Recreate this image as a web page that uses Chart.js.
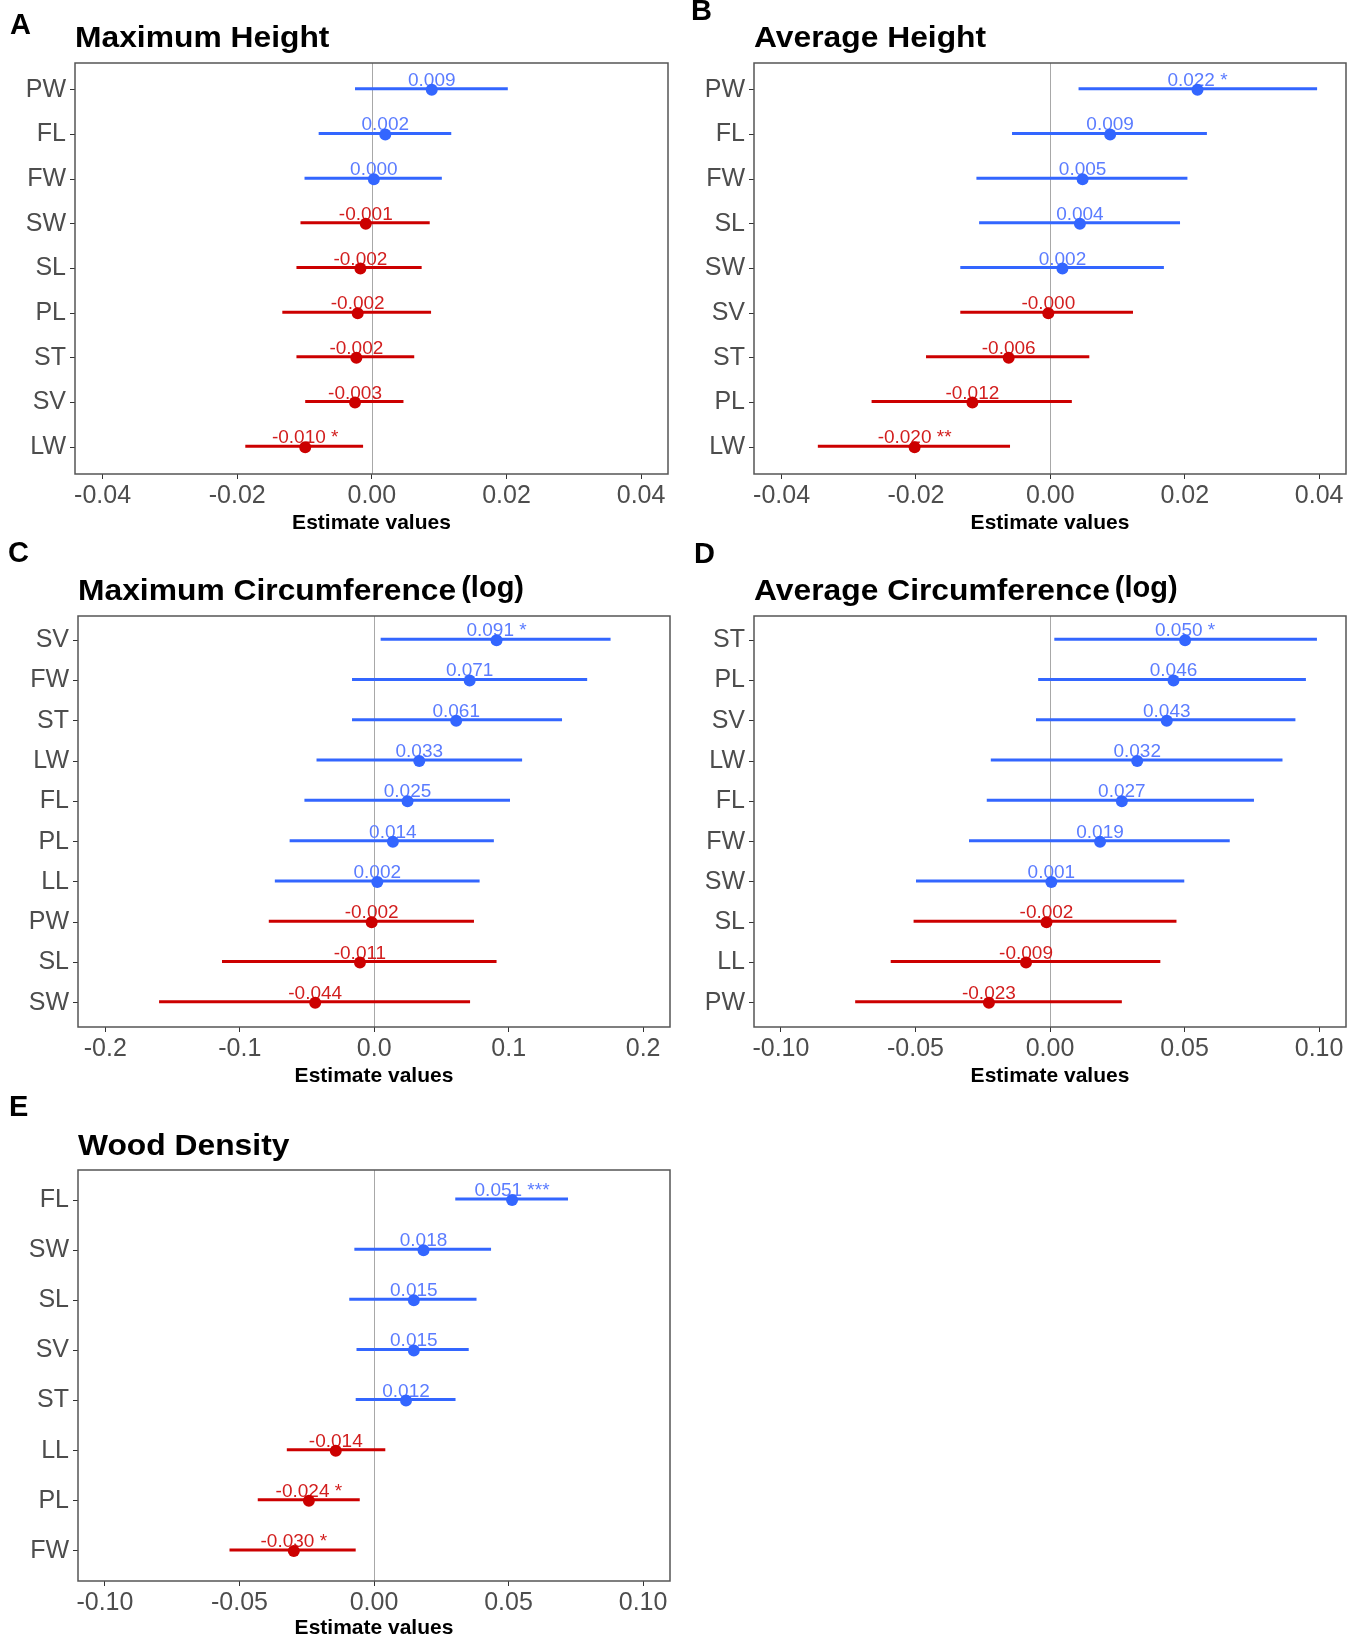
<!DOCTYPE html>
<html>
<head>
<meta charset="utf-8">
<title>Estimate values by trait</title>
<script src="https://cdn.jsdelivr.net/npm/chart.js@4.4.0/dist/chart.umd.min.js"></script>
<style>
  body { margin: 0; background: #fff; width: 1363px; height: 1641px; position: relative; overflow: hidden; }
  canvas { position: absolute; }
</style>
</head>
<body>
<canvas id="chartA" width="680" height="540" style="left:0;top:0"></canvas>
<canvas id="chartB" width="683" height="540" style="left:680px;top:0"></canvas>
<canvas id="chartC" width="680" height="560" style="left:0;top:540px"></canvas>
<canvas id="chartD" width="683" height="560" style="left:680px;top:540px"></canvas>
<canvas id="chartE" width="680" height="561" style="left:0;top:1080px"></canvas>
<script>
// A - Maximum Height
const catsA = ['PW', 'FL', 'FW', 'SW', 'SL', 'PL', 'ST', 'SV', 'LW'];
const estA = [0.0089, 0.0020, 0.0003, -0.0009, -0.0017, -0.0021, -0.0023, -0.0025, -0.0099];
const lowA = [-0.0025, -0.0079, -0.0100, -0.0106, -0.0112, -0.0133, -0.0112, -0.0099, -0.0188];
const highA = [0.0202, 0.0118, 0.0104, 0.0086, 0.0074, 0.0088, 0.0063, 0.0047, -0.0013];
const textA = ['0.009', '0.002', '0.000', '-0.001', '-0.002', '-0.002', '-0.002', '-0.003', '-0.010 *'];

// B - Average Height
const catsB = ['PW', 'FL', 'FW', 'SL', 'SW', 'SV', 'ST', 'PL', 'LW'];
const estB = [0.0219, 0.0089, 0.0048, 0.0044, 0.0018, -0.0003, -0.0062, -0.0116, -0.0202];
const lowB = [0.0042, -0.0057, -0.0110, -0.0106, -0.0134, -0.0134, -0.0185, -0.0266, -0.0346];
const highB = [0.0397, 0.0233, 0.0204, 0.0193, 0.0169, 0.0123, 0.0058, 0.0032, -0.0060];
const textB = ['0.022 *', '0.009', '0.005', '0.004', '0.002', '-0.000', '-0.006', '-0.012', '-0.020 **'];

// C - Maximum Circumference (log)
const catsC = ['SV', 'FW', 'ST', 'LW', 'FL', 'PL', 'LL', 'PW', 'SL', 'SW'];
const estC = [0.091, 0.071, 0.061, 0.0335, 0.0248, 0.0139, 0.0023, -0.0019, -0.0106, -0.0439];
const lowC = [0.0048, -0.0165, -0.0165, -0.0429, -0.0519, -0.0629, -0.0739, -0.0784, -0.1132, -0.160];
const highC = [0.1758, 0.1584, 0.1397, 0.110, 0.101, 0.089, 0.0784, 0.0742, 0.091, 0.0713];
const textC = ['0.091 *', '0.071', '0.061', '0.033', '0.025', '0.014', '0.002', '-0.002', '-0.011', '-0.044'];

// D - Average Circumference (log)
const catsD = ['ST', 'PL', 'SV', 'LW', 'FL', 'FW', 'SW', 'SL', 'LL', 'PW'];
const estD = [0.0502, 0.0459, 0.0434, 0.0324, 0.0267, 0.0186, 0.0005, -0.0013, -0.0089, -0.0227];
const lowD = [0.0016, -0.0044, -0.0052, -0.0220, -0.0235, -0.0301, -0.0498, -0.0507, -0.0592, -0.0724];
const highD = [0.0992, 0.0951, 0.0912, 0.0864, 0.0758, 0.0668, 0.0499, 0.0470, 0.0410, 0.0267];
const textD = ['0.050 *', '0.046', '0.043', '0.032', '0.027', '0.019', '0.001', '-0.002', '-0.009', '-0.023'];

// E - Wood Density
const catsE = ['FL', 'SW', 'SL', 'SV', 'ST', 'LL', 'PL', 'FW'];
const estE = [0.0513, 0.0184, 0.0148, 0.0148, 0.0119, -0.0142, -0.0242, -0.0298];
const lowE = [0.0302, -0.0073, -0.0092, -0.0065, -0.0068, -0.0324, -0.0432, -0.0537];
const highE = [0.0721, 0.0435, 0.0381, 0.0352, 0.0303, 0.0042, -0.0053, -0.0068];
const textE = ['0.051 ***', '0.018', '0.015', '0.015', '0.012', '-0.014', '-0.024 *', '-0.030 *'];

// x axis ticks
const ticksSmall = [-0.04, -0.02, 0, 0.02, 0.04];
const tickTextSmall = ['-0.04', '-0.02', '0.00', '0.02', '0.04'];
const ticksWide = [-0.2, -0.1, 0, 0.1, 0.2];
const tickTextWide = ['-0.2', '-0.1', '0.0', '0.1', '0.2'];
const ticksMid = [-0.10, -0.05, 0, 0.05, 0.10];
const tickTextMid = ['-0.10', '-0.05', '0.00', '0.05', '0.10'];

const BLUE = '#3366FF';
const RED = '#CC0000';
const BLUE_TXT = '#5b7cff';
const RED_TXT = '#d21e1e';
const FONT = '"Liberation Sans", Arial, Helvetica, sans-serif';

function makePanel(id, p) {
  const canvas = document.getElementById(id);
  const W = canvas.width, H = canvas.height;
  const n = p.cats.length;

  // zero line, intervals, value labels, frame, panel letter and title
  const forest = {
    id: 'forest',
    beforeDatasetsDraw(chart) {
      const { ctx, chartArea: a, scales: { x, y } } = chart;
      ctx.save();
      const x0 = Math.round(x.getPixelForValue(0)) + 0.5;
      ctx.strokeStyle = '#a8a8a8';
      ctx.lineWidth = 1;
      ctx.beginPath();
      ctx.moveTo(x0, a.top);
      ctx.lineTo(x0, a.bottom);
      ctx.stroke();

      ctx.lineWidth = 3;
      p.est.forEach((v, i) => {
        const py = y.getPixelForValue(i) - 1;
        ctx.strokeStyle = v >= 0 ? BLUE : RED;
        ctx.beginPath();
        ctx.moveTo(x.getPixelForValue(p.low[i]), py);
        ctx.lineTo(x.getPixelForValue(p.high[i]), py);
        ctx.stroke();
      });

      ctx.font = '19px ' + FONT;
      ctx.textAlign = 'center';
      ctx.textBaseline = 'alphabetic';
      p.est.forEach((v, i) => {
        ctx.fillStyle = v >= 0 ? BLUE_TXT : RED_TXT;
        ctx.fillText(p.text[i], x.getPixelForValue(v), y.getPixelForValue(i) - 4);
      });
      ctx.restore();
    },
    afterDraw(chart) {
      const { ctx, chartArea: a } = chart;
      ctx.save();
      ctx.strokeStyle = '#555555';
      ctx.lineWidth = 1.5;
      ctx.strokeRect(a.left, a.top, a.right - a.left, a.bottom - a.top);

      ctx.fillStyle = '#000';
      ctx.textAlign = 'left';
      ctx.textBaseline = 'alphabetic';
      ctx.font = 'bold 29px ' + FONT;
      ctx.fillText(p.letter, p.letterX, p.letterY);

      // the title face runs a little wider than plain Arial bold
      ctx.font = 'bold 30px ' + FONT;
      const tw = ctx.measureText(p.title).width * 1.06;
      ctx.save();
      ctx.translate(p.box.left, p.titleY);
      ctx.scale(1.06, 1);
      ctx.fillText(p.title, 0, 0);
      ctx.restore();
      if (p.suffix) {
        ctx.font = 'bold 29px ' + FONT;
        ctx.fillText(p.suffix, p.box.left + tw + 5, p.titleY - 3);
      }
      ctx.restore();
    }
  };

  return new Chart(canvas, {
    type: 'scatter',
    data: {
      datasets: [{
        data: p.est.map((v, i) => ({ x: v, y: i })),
        pointBackgroundColor: p.est.map(v => v >= 0 ? BLUE : RED),
        pointBorderWidth: 0,
        pointRadius: 6,
        pointHoverRadius: 6
      }]
    },
    options: {
      responsive: false,
      animation: false,
      events: [],
      layout: {
        padding: {
          left: 0,
          top: p.box.top,
          right: W - p.box.right,
          bottom: Math.max(0, H - p.box.bottom - p.xh)
        }
      },
      plugins: { legend: { display: false }, tooltip: { enabled: false } },
      scales: {
        x: {
          type: 'linear',
          bounds: 'data',
          min: p.xMin,
          max: p.xMax,
          afterBuildTicks: s => { s.ticks = p.ticks.map(v => ({ value: v })); },
          afterFit: s => { s.height = p.xh; },
          ticks: {
            autoSkip: false,
            maxRotation: 0,
            padding: 2,
            color: '#4d4d4d',
            font: { family: FONT, size: 25 },
            callback: (v, i) => p.tickText[i]
          },
          grid: { drawOnChartArea: false, drawTicks: true, tickLength: 5, tickColor: '#333', tickWidth: 1 },
          border: { display: false },
          title: {
            display: true,
            text: 'Estimate values',
            color: '#000',
            padding: 0,
            font: { family: FONT, size: 21, weight: 'bold' }
          }
        },
        y: {
          type: 'linear',
          bounds: 'data',
          reverse: true,
          min: -0.6,
          max: n - 0.4,
          afterBuildTicks: s => { s.ticks = p.cats.map((c, i) => ({ value: i })); },
          afterFit: s => { s.width = p.box.left; },
          ticks: {
            autoSkip: false,
            padding: 4,
            color: '#4d4d4d',
            font: { family: FONT, size: 25 },
            callback: (v, i) => p.cats[i]
          },
          grid: { drawOnChartArea: false, drawTicks: true, tickLength: 5, tickColor: '#333', tickWidth: 1 },
          border: { display: false }
        }
      }
    },
    plugins: [forest]
  });
}

makePanel('chartA', {
  cats: catsA, est: estA, low: lowA, high: highA, text: textA,
  ticks: ticksSmall, tickText: tickTextSmall, xMin: -0.0441, xMax: 0.044,
  box: { left: 75, top: 63, right: 668, bottom: 474 }, xh: 62,
  letter: 'A', letterX: 10, letterY: 34, title: 'Maximum Height', titleY: 47
});
makePanel('chartB', {
  cats: catsB, est: estB, low: lowB, high: highB, text: textB,
  ticks: ticksSmall, tickText: tickTextSmall, xMin: -0.0441, xMax: 0.044,
  box: { left: 74, top: 63, right: 666, bottom: 474 }, xh: 62,
  letter: 'B', letterX: 11, letterY: 20, title: 'Average Height', titleY: 47
});
makePanel('chartC', {
  cats: catsC, est: estC, low: lowC, high: highC, text: textC,
  ticks: ticksWide, tickText: tickTextWide, xMin: -0.2203, xMax: 0.22,
  box: { left: 78, top: 76, right: 670, bottom: 487 }, xh: 61.5,
  letter: 'C', letterX: 8, letterY: 22, title: 'Maximum Circumference', suffix: '(log)', titleY: 60
});
makePanel('chartD', {
  cats: catsD, est: estD, low: lowD, high: highD, text: textD,
  ticks: ticksMid, tickText: tickTextMid, xMin: -0.110, xMax: 0.110,
  box: { left: 74, top: 76, right: 666, bottom: 487 }, xh: 61.5,
  letter: 'D', letterX: 14, letterY: 23, title: 'Average Circumference', suffix: '(log)', titleY: 60
});
makePanel('chartE', {
  cats: catsE, est: estE, low: lowE, high: highE, text: textE,
  ticks: ticksMid, tickText: tickTextMid, xMin: -0.110, xMax: 0.110,
  box: { left: 78, top: 90, right: 670, bottom: 501 }, xh: 60,
  letter: 'E', letterX: 9, letterY: 36, title: 'Wood Density', titleY: 75
});
</script>
</body>
</html>
